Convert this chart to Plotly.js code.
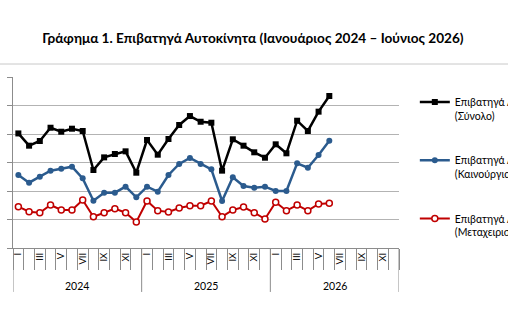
<!DOCTYPE html>
<html>
<head>
<meta charset="utf-8">
<script src="https://cdn.plot.ly/plotly-3.0.1.min.js"></script>
<style>
  html, body { margin: 0; padding: 0; background: #ffffff; }
  #chart { width: 508px; height: 318px; }
</style>
</head>
<body>
<div id="chart"></div>
<script>
// Monthly passenger car registrations, Jan 2024 – Jun 2026
const years = ['2024', '2025', '2026'];
const months = ['I', 'II', 'III', 'IV', 'V', 'VI', 'VII', 'VIII', 'IX', 'X', 'XI', 'XII'];

const totalCars = [
  20100, 17950, 18770, 21100, 20400, 20930, 20530, 13680, 15900, 16490, 16960, 13210,
  18950, 16370, 19120, 21580, 23150, 22150, 21980, 13570, 19070, 17950, 16790, 15840,
  18190, 16610, 22330, 20530, 23920, 26670
];
const newCars = [
  12810, 11460, 12510, 13570, 13920, 14270, 12220, 8300, 9710, 9710, 10760, 8890,
  10760, 9880, 12810, 14740, 15800, 14740, 13800, 8250, 12400, 10880, 10580, 10760,
  10000, 10000, 14850, 14090, 16320, 18830
];
const usedCars = [
  7250, 6370, 6190, 7540, 6670, 6670, 8420, 5490, 6190, 6900, 6190, 4560,
  8250, 6550, 6320, 7020, 7420, 7420, 8250, 5490, 6670, 7190, 6190, 5090,
  8020, 6550, 7540, 6550, 7720, 7840
];

const seriesNames = [
  'Επιβατηγά Αυτοκίνητα<br>(Σύνολο)',
  'Επιβατηγά Αυτοκίνητα<br>(Καινούργια)',
  'Επιβατηγά Αυτοκίνητα<br>(Μεταχειρισμένα)'
];

// month slots along the axis: one per month of every year
const slotCount = years.length * months.length;
const xIdx = totalCars.map((_, i) => i);

// odd months carry a label
const labelVals = [], labelText = [];
for (let i = 0; i < slotCount; i += 2) {
  labelVals.push(i);
  labelText.push(months[i % months.length]);
}

const FONT = 'Lato, "Open Sans", "DejaVu Sans", sans-serif';
const AXIS_GREY = '#8c8c8c';
const GRID_GREY = '#b3b3b3';

const traces = [
  {
    x: xIdx, y: totalCars, name: seriesNames[0], legendgroup: 'a',
    mode: 'lines+markers', type: 'scatter',
    line: { color: '#000000', width: 2.5 },
    marker: { symbol: 'square', size: 6, color: '#000000' }
  },
  {
    x: xIdx, y: newCars, name: seriesNames[1], legendgroup: 'b',
    mode: 'lines+markers', type: 'scatter',
    line: { color: '#2b5b8e', width: 2.5 },
    marker: { symbol: 'circle', size: 6, color: '#2b5b8e' }
  },
  {
    x: xIdx, y: usedCars, name: seriesNames[2], legendgroup: 'c',
    mode: 'lines+markers', type: 'scatter',
    line: { color: '#c00000', width: 2 },
    marker: { symbol: 'circle', size: 6, color: '#ffffff', line: { color: '#c00000', width: 1.5 } }
  }
];

// vertical dividers between the years, reaching down past the year labels
const shapes = [];
for (let k = 0; k <= years.length; k++) {
  const xb = k * months.length - 0.5;
  shapes.push({
    type: 'line', xref: 'x', yref: 'paper',
    x0: xb, x1: xb, y0: 0, y1: -0.257,
    line: { color: AXIS_GREY, width: 1 }
  });
}
// thin rule across the chart area above the plot
shapes.push({
  type: 'line', xref: 'paper', yref: 'paper',
  x0: -0.04, x1: 1.3, y0: 1.076, y1: 1.076,
  line: { color: '#c8c8c8', width: 1 }
});

const annotations = years.map((yr, k) => ({
  text: yr, xref: 'x', yref: 'paper',
  x: k * months.length + (months.length - 1) / 2, y: -0.222,
  xanchor: 'center', yanchor: 'middle', showarrow: false,
  font: { family: FONT, size: 10.5, color: '#000000' }
}));

const layout = {
  width: 508, height: 318,
  paper_bgcolor: '#ffffff', plot_bgcolor: '#ffffff',
  margin: { l: 13, r: 109, t: 77, b: 70, autoexpand: false },
  font: { family: FONT, color: '#000000' },
  title: {
    text: '<b>Γράφημα 1. Επιβατηγά Αυτοκίνητα (Ιανουάριος 2024 – Ιούνιος 2026)</b>',
    font: { family: FONT, size: 13.6, color: '#000000' },
    xref: 'container', x: 0.498, xanchor: 'center',
    yref: 'container', y: 0.88, yanchor: 'middle'
  },
  xaxis: {
    range: [-0.5, slotCount - 0.5],
    tickmode: 'array', tickvals: labelVals, ticktext: labelText,
    tickangle: -90, ticks: '',
    tickfont: { family: FONT, size: 9.5, color: '#000000' },
    showgrid: false, zeroline: false,
    showline: true, linecolor: AXIS_GREY, linewidth: 1,
    minor: { tickmode: 'linear', tick0: -0.5, dtick: 1, ticks: 'outside', ticklen: 21, tickcolor: AXIS_GREY, tickwidth: 1, showgrid: false },
    fixedrange: true
  },
  yaxis: {
    range: [0, 30000], dtick: 5000,
    showticklabels: false,
    ticks: 'outside', ticklen: 5, tickcolor: AXIS_GREY,
    showgrid: true, gridcolor: GRID_GREY, gridwidth: 1,
    zeroline: false,
    showline: true, linecolor: AXIS_GREY, linewidth: 1,
    fixedrange: true
  },
  showlegend: true,
  legend: {
    x: 1.041, xanchor: 'left', y: 0.932, yanchor: 'top',
    valign: 'top', tracegroupgap: 28, itemwidth: 30,
    font: { family: FONT, size: 10.5, color: '#000000' },
    bgcolor: 'rgba(0,0,0,0)'
  },
  shapes: shapes,
  annotations: annotations
};

Plotly.newPlot('chart', traces, layout, { displayModeBar: false, staticPlot: true });
</script>
</body>
</html>
